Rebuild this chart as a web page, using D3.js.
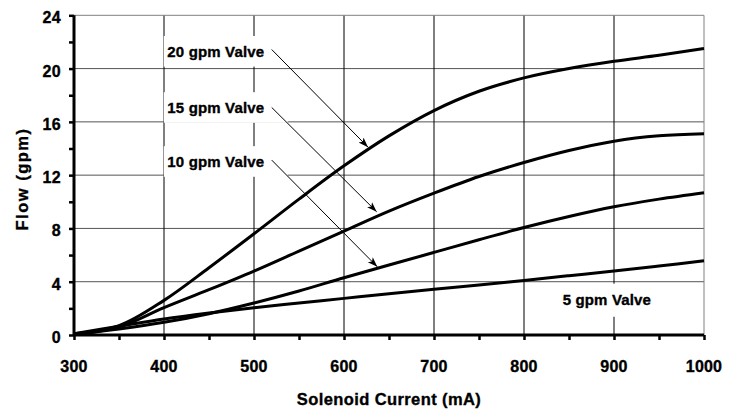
<!DOCTYPE html>
<html>
<head>
<meta charset="utf-8">
<script src="https://cdn.jsdelivr.net/npm/d3@7/dist/d3.min.js"></script>
<style>
  html, body { margin: 0; padding: 0; background: #fff; }
  svg { display: block; font-family: "Liberation Sans", Arial, sans-serif; font-weight: bold; }
  text { fill: #000; stroke: #000; stroke-width: 0.35px; }
</style>
</head>
<body>
<svg id="chart" width="738" height="412"></svg>
<script>
// ---- data ----
const current = [300, 350, 400, 450, 500, 550, 600, 650, 700, 750, 800, 850, 900, 950, 1000];
const flow20 = [0.1, 0.7, 2.6, 5.05, 7.6, 10.2, 12.7, 14.95, 16.85, 18.3, 19.3, 20.0, 20.55, 21.0, 21.5];
const flow15 = [0.05, 0.6, 2.05, 3.4, 4.8, 6.3, 7.8, 9.3, 10.65, 11.9, 12.95, 13.85, 14.55, 14.95, 15.1];
const flow10 = [0.05, 0.45, 0.95, 1.6, 2.4, 3.3, 4.3, 5.25, 6.2, 7.15, 8.07, 8.9, 9.63, 10.2, 10.68];
const flow5  = [0.1, 0.65, 1.2, 1.65, 2.05, 2.4, 2.75, 3.1, 3.43, 3.75, 4.1, 4.45, 4.8, 5.18, 5.57];
const seriesNames = ["20 gpm Valve", "15 gpm Valve", "10 gpm Valve", "5 gpm Valve"];
const xTicks = [300, 400, 500, 600, 700, 800, 900, 1000];
const yTicks = [0, 4, 8, 12, 16, 20, 24];
const xTitle = "Solenoid Current (mA)";
const yTitle = "Flow (gpm)";
// label anchors (mA, gpm) and arrow start/end (mA, gpm)
const labelPos = [[403.7, 20.9], [403.7, 16.68], [403.7, 12.63], [843, 2.25]];
const arrowFrom = [[519.7, 21.43], [519.7, 17.08], [519.7, 13.13]];
const arrowTo   = [[626.7, 14.1], [636.3, 9.25], [637.0, 5.12]];

// ---- scales ----
const svg = d3.select("#chart");
const x = d3.scaleLinear().domain([300, 1000]).range([74, 704]);
const y = d3.scaleLinear().domain([0, 24]).range([335, 15.3]);

// grid
const grid = svg.append("g");
grid.selectAll(".hg").data([4, 8, 12, 16, 20]).join("line")
  .attr("x1", x(300)).attr("x2", x(1000))
  .attr("y1", d => y(d)).attr("y2", d => y(d))
  .attr("stroke", "#555").attr("stroke-width", 1);
grid.selectAll(".vg").data([400, 500, 600, 700, 800, 900]).join("line")
  .attr("x1", d => x(d)).attr("x2", d => x(d))
  .attr("y1", y(24)).attr("y2", y(0))
  .attr("stroke", "#000").attr("stroke-width", 1);
// top/right border
svg.append("path")
  .attr("d", `M${x(300)},${y(24)}H${x(1000)}V${y(0)}`)
  .attr("fill", "none").attr("stroke", "#808080").attr("stroke-width", 1);

// labels with white boxes
const labels = svg.append("g");
seriesNames.forEach((name, i) => {
  const g = labels.append("g");
  const t = g.append("text")
    .attr("x", x(labelPos[i][0])).attr("y", y(labelPos[i][1]))
    .attr("font-size", 15).attr("letter-spacing", 0.15)
    .text(name);
  const b = t.node().getBBox();
  const cy = y(labelPos[i][1]) - 5.3;
  const isLast = i === 3;
  g.insert("rect", "text")
    .attr("x", b.x - 3.5).attr("y", cy - (isLast ? 16 : 15.3))
    .attr("width", b.width + (isLast ? 18 : 27)).attr("height", isLast ? 33 : 30.6)
    .attr("fill", "#fff").attr("stroke", "none");
});

// curves
const line = d3.line().x((d, i) => x(current[i])).y(d => y(d)).curve(d3.curveCatmullRom.alpha(0.5));
svg.append("g").selectAll("path").data([flow20, flow15, flow10, flow5]).join("path")
  .attr("d", d => line(d))
  .attr("fill", "none").attr("stroke", "#000").attr("stroke-width", 3)
  .attr("stroke-linejoin", "round");

// arrows
svg.append("defs").append("marker")
  .attr("id", "ah").attr("viewBox", "0 0 10 10")
  .attr("refX", 10).attr("refY", 5)
  .attr("markerWidth", 10).attr("markerHeight", 10)
  .attr("markerUnits", "userSpaceOnUse").attr("orient", "auto")
  .append("path").attr("d", "M0,1.5 L10,5 L0,8.5 L2.5,5 Z").attr("fill", "#000");
svg.append("g").selectAll("line").data(arrowFrom).join("line")
  .attr("x1", d => x(d[0])).attr("y1", d => y(d[1]))
  .attr("x2", (d, i) => x(arrowTo[i][0])).attr("y2", (d, i) => y(arrowTo[i][1]))
  .attr("stroke", "#000").attr("stroke-width", 1)
  .attr("marker-end", "url(#ah)");

// axes
const xAxis = svg.append("g").attr("transform", `translate(0,${y(0)})`)
  .call(d3.axisBottom(x).tickValues(d3.range(300, 1001, 50)).tickSize(5).tickFormat(""));
xAxis.select(".domain").attr("stroke-width", 3).attr("d", `M${x(300)},0H${x(1000)}`);
xAxis.selectAll(".tick line").attr("stroke-width", 2.5);
const yAxis = svg.append("g").attr("transform", `translate(${x(300)},0)`)
  .call(d3.axisLeft(y).tickValues(d3.range(0, 25, 2)).tickSize(5).tickFormat(""));
yAxis.select(".domain").attr("stroke-width", 3).attr("d", `M0,${y(24)}V${y(0)}`);
yAxis.selectAll(".tick line").attr("stroke-width", 2.5);

// tick labels
svg.append("g").selectAll("text").data(xTicks).join("text")
  .attr("x", d => x(d)).attr("y", 371.7)
  .attr("text-anchor", "middle").attr("font-size", 16).attr("letter-spacing", 0.2)
  .text(d => d);
svg.append("g").selectAll("text").data(yTicks).join("text")
  .attr("x", 61).attr("y", d => y(d) + 8)
  .attr("text-anchor", "end").attr("font-size", 16).attr("letter-spacing", 0.3)
  .text(d => d);

// axis titles
svg.append("text").attr("x", 389).attr("y", 405)
  .attr("text-anchor", "middle").attr("font-size", 16.5).attr("letter-spacing", 0.4)
  .text(xTitle);
svg.append("text").attr("transform", "translate(27.5,179) rotate(-90)")
  .attr("text-anchor", "middle").attr("font-size", 16.5).attr("letter-spacing", 1.5)
  .text(yTitle);
</script>
</body>
</html>
